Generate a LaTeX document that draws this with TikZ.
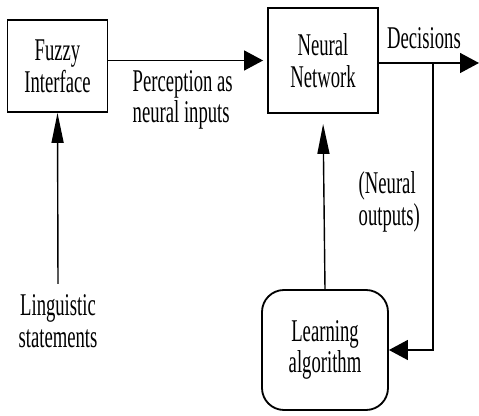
\documentclass[tikz,border=0pt]{standalone}
\usepackage{fontspec}
\setmainfont[FakeStretch=0.59]{Liberation Serif}
\usetikzlibrary{arrows.meta}

\begin{document}
\begin{tikzpicture}[->,>={Triangle[length=0.475cm,width=0.5cm]},line width=1pt,
  font=\fontsize{22.5}{22.5}\selectfont,
  block/.style={draw,line width=1.3pt,align=center,inner sep=0pt},
  up arrow/.style={-{Triangle[length=0.75cm,width=0.3cm]}},
  label text/.style={align=left,inner sep=0pt}]

  \useasboundingbox (0,0) rectangle (11.975,10.4);

  \node[block,minimum width=2.5cm,minimum height=2.3cm] (fuzzy) at (1.4375,8.75) {Fuzzy\\Interface};
  \node[block,minimum width=2.75cm,minimum height=2.625cm] (neural) at (8.075,8.8875) {Neural\\Network};
  \node[block,rounded corners=0.55cm,minimum width=3.15cm,minimum height=3cm] (learn) at (8.125,1.65) {Learning\\algorithm};
  \node[align=center,inner sep=0.25cm] (ling) at (1.45,2.375) {Linguistic\\statements};

  \node[label text,anchor=west] (percept) at (3.3,7.9) {Perception as\\neural inputs};
  \node[label text] (decide) at (10.6,9.45) {Decisions};
  \node[label text,anchor=west] (outs) at (8.95,5.35) {(Neural\\outputs)};

  \coordinate (out) at (11.975,8.825);
  \coordinate (tap) at (10.825,8.825);

  \path
    (ling.north) edge[up arrow] (fuzzy.south)
    (fuzzy.east |- neural.west) edge[shorten >=0.1cm] (neural.west)
    (learn.north) edge[up arrow,shorten >=0.25cm] (neural.south)
    (neural.east |- out) edge (out)
    ;
  \draw (tap) |- (learn.east);
\end{tikzpicture}
\end{document}
